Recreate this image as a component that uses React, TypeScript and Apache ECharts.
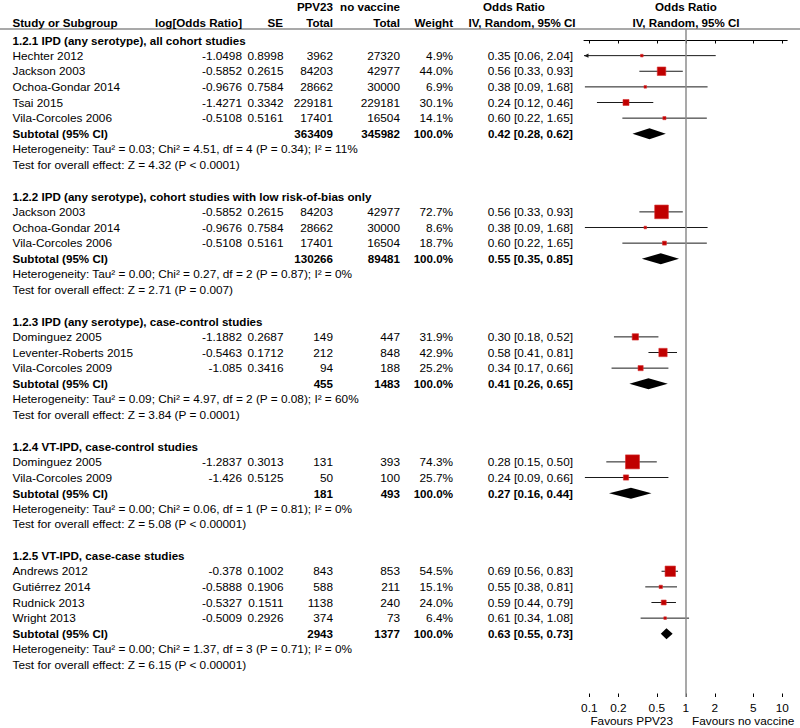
import React, { useEffect, useRef } from "react";
import * as echarts from "echarts";

// ---------------- DATA ----------------
const groupTitles = [
  "1.2.1 IPD (any serotype), all cohort studies",
  "1.2.2 IPD (any serotype), cohort studies with low risk-of-bias only",
  "1.2.3 IPD (any serotype), case-control studies",
  "1.2.4 VT-IPD, case-control studies",
  "1.2.5 VT-IPD, case-case studies",
];
const studyGroup = [0, 0, 0, 0, 0, 1, 1, 1, 2, 2, 2, 3, 3, 4, 4, 4, 4];
const studyNames = [
  "Hechter 2012", "Jackson 2003", "Ochoa-Gondar 2014", "Tsai 2015", "Vila-Corcoles 2006",
  "Jackson 2003", "Ochoa-Gondar 2014", "Vila-Corcoles 2006",
  "Dominguez 2005", "Leventer-Roberts 2015", "Vila-Corcoles 2009",
  "Dominguez 2005", "Vila-Corcoles 2009",
  "Andrews 2012", "Gutiérrez 2014", "Rudnick 2013", "Wright 2013",
];
const logOddsRatio = [
  -1.0498, -0.5852, -0.9676, -1.4271, -0.5108,
  -0.5852, -0.9676, -0.5108,
  -1.1882, -0.5463, -1.085,
  -1.2837, -1.426,
  -0.378, -0.5888, -0.5327, -0.5009,
];
const standardErrors = [
  0.8998, 0.2615, 0.7584, 0.3342, 0.5161,
  0.2615, 0.7584, 0.5161,
  0.2687, 0.1712, 0.3416,
  0.3013, 0.5125,
  0.1002, 0.1906, 0.1511, 0.2926,
];
const ppv23Totals = [3962, 84203, 28662, 229181, 17401, 84203, 28662, 17401, 149, 212, 94, 131, 50, 843, 588, 1138, 374];
const noVaccineTotals = [27320, 42977, 30000, 229181, 16504, 42977, 30000, 16504, 447, 848, 188, 393, 100, 853, 211, 240, 73];
const weights = [4.9, 44.0, 6.9, 30.1, 14.1, 72.7, 8.6, 18.7, 31.9, 42.9, 25.2, 74.3, 25.7, 54.5, 15.1, 24.0, 6.4];
const oddsRatios = [0.35, 0.56, 0.38, 0.24, 0.60, 0.56, 0.38, 0.60, 0.30, 0.58, 0.34, 0.28, 0.24, 0.69, 0.55, 0.59, 0.61];
const ciLower = [0.06, 0.33, 0.09, 0.12, 0.22, 0.33, 0.09, 0.22, 0.18, 0.41, 0.17, 0.15, 0.09, 0.56, 0.38, 0.44, 0.34];
const ciUpper = [2.04, 0.93, 1.68, 0.46, 1.65, 0.93, 1.68, 1.65, 0.52, 0.81, 0.66, 0.50, 0.66, 0.83, 0.81, 0.79, 1.08];

const subtotalPPV23 = [363409, 130266, 455, 181, 2943];
const subtotalNoVaccine = [345982, 89481, 1483, 493, 1377];
const subtotalWeight = [100.0, 100.0, 100.0, 100.0, 100.0];
const subtotalOR = [0.42, 0.55, 0.41, 0.27, 0.63];
const subtotalLower = [0.28, 0.35, 0.26, 0.16, 0.55];
const subtotalUpper = [0.62, 0.85, 0.65, 0.44, 0.73];
const heterogeneity = [
  "Heterogeneity: Tau² = 0.03; Chi² = 4.51, df = 4 (P = 0.34); I² = 11%",
  "Heterogeneity: Tau² = 0.00; Chi² = 0.27, df = 2 (P = 0.87); I² = 0%",
  "Heterogeneity: Tau² = 0.09; Chi² = 4.97, df = 2 (P = 0.08); I² = 60%",
  "Heterogeneity: Tau² = 0.00; Chi² = 0.06, df = 1 (P = 0.81); I² = 0%",
  "Heterogeneity: Tau² = 0.00; Chi² = 1.37, df = 3 (P = 0.71); I² = 0%",
];
const overallEffect = [
  "Test for overall effect: Z = 4.32 (P < 0.0001)",
  "Test for overall effect: Z = 2.71 (P = 0.007)",
  "Test for overall effect: Z = 3.84 (P = 0.0001)",
  "Test for overall effect: Z = 5.08 (P < 0.00001)",
  "Test for overall effect: Z = 6.15 (P < 0.00001)",
];
const tickValues = [0.1, 0.2, 0.5, 1, 2, 5, 10];
const tickLabels = ["0.1", "0.2", "0.5", "1", "2", "5", "10"];
const favoursLeft = "Favours PPV23";
const favoursRight = "Favours no vaccine";

// ---------------- LAYOUT ----------------
const FONT = "'Liberation Sans', Arial, Helvetica, sans-serif";
const FS = 11.8;
const FS_BOLD = 11.6;
const X_MIN = -1.055;
const X_MAX = 1.05;
const Y_MIN = -0.704;
const Y_MAX = 42.048;
const COLS: { x: number; align: string }[] = [
  { x: 12.5, align: "left" },
  { x: 242, align: "right" },
  { x: 283.5, align: "right" },
  { x: 333, align: "right" },
  { x: 400, align: "right" },
  { x: 453, align: "right" },
  { x: 573, align: "right" },
];

type Row = { r: number; kind: string; cells: string[] };

const fmtCI = (o: number, l: number, h: number) => `${o.toFixed(2)} [${l.toFixed(2)}, ${h.toFixed(2)}]`;

function buildRows() {
  const rows: Row[] = [];
  const studyData: number[][] = [];
  const subtotalData: number[][] = [];
  let r = 0;
  groupTitles.forEach((title, g) => {
    rows.push({ r, kind: "title", cells: [title] });
    r++;
    studyNames.forEach((name, i) => {
      if (studyGroup[i] !== g) return;
      rows.push({
        r,
        kind: "study",
        cells: [
          name,
          String(logOddsRatio[i]),
          String(standardErrors[i]),
          String(ppv23Totals[i]),
          String(noVaccineTotals[i]),
          weights[i].toFixed(1) + "%",
          fmtCI(oddsRatios[i], ciLower[i], ciUpper[i]),
        ],
      });
      studyData.push([
        Math.log10(oddsRatios[i]),
        Math.log10(ciLower[i]),
        Math.log10(ciUpper[i]),
        r,
        weights[i],
      ]);
      r++;
    });
    rows.push({
      r,
      kind: "subtotal",
      cells: [
        "Subtotal (95% CI)",
        "",
        "",
        String(subtotalPPV23[g]),
        String(subtotalNoVaccine[g]),
        subtotalWeight[g].toFixed(1) + "%",
        fmtCI(subtotalOR[g], subtotalLower[g], subtotalUpper[g]),
      ],
    });
    subtotalData.push([
      Math.log10(subtotalOR[g]),
      Math.log10(subtotalLower[g]),
      Math.log10(subtotalUpper[g]),
      r,
    ]);
    r++;
    rows.push({ r, kind: "note", cells: [heterogeneity[g]] });
    r++;
    rows.push({ r, kind: "note", cells: [overallEffect[g]] });
    r++;
    r++;
  });
  return { rows, studyData, subtotalData };
}

const { rows, studyData, subtotalData } = buildRows();

function headerText(text: string, x: number, y: number, align: string, bold = true) {
  return {
    type: "text",
    x,
    y,
    silent: true,
    style: {
      text,
      align,
      verticalAlign: "middle",
      fontSize: bold ? FS_BOLD : FS,
      fontFamily: FONT,
      fontWeight: bold ? "bold" : "normal",
      fill: "#000",
    },
  };
}

export default function App() {
  const ref = useRef<HTMLDivElement>(null);
  useEffect(() => {
    if (!ref.current) return;
    const chart = echarts.init(ref.current, undefined, { renderer: "svg" });
    const tickPos = tickValues.map((v) => Math.log10(v));
    const labelFor = (v: number) => {
      let best = 0;
      tickPos.forEach((p, i) => {
        if (Math.abs(p - v) < Math.abs(tickPos[best] - v)) best = i;
      });
      return tickLabels[best];
    };

    const option: any = {
      animation: false,
      backgroundColor: "#fff",
      grid: { left: 584, width: 203.2, top: 29, height: 668, containLabel: false },
      xAxis: [
        {
          type: "value",
          min: X_MIN,
          max: X_MAX,
          position: "bottom",
          axisLine: { show: true, lineStyle: { color: "#000", width: 1 } },
          axisTick: {
            show: true,
            length: 3.5,
            customValues: tickPos,
            lineStyle: { color: "#000", width: 1 },
          },
          axisLabel: {
            show: true,
            customValues: tickPos,
            formatter: (v: number) => labelFor(v),
            color: "#000",
            fontSize: FS,
            fontFamily: FONT,
            margin: 5,
          },
          splitLine: { show: false },
        },
        {
          type: "value",
          min: X_MIN,
          max: X_MAX,
          position: "bottom",
          axisLine: { show: false },
          axisTick: {
            show: true,
            inside: true,
            length: 3.5,
            customValues: tickPos,
            lineStyle: { color: "#000", width: 1 },
          },
          axisLabel: { show: false },
          splitLine: { show: false },
        },
      ],
      yAxis: {
        type: "value",
        inverse: true,
        min: Y_MIN,
        max: Y_MAX,
        show: false,
        splitLine: { show: false },
      },
      graphic: [
        {
          type: "line",
          silent: true,
          shape: { x1: 0, y1: 29, x2: 800, y2: 29 },
          style: { stroke: "#8c8c8c", lineWidth: 1.5 },
        },
        headerText("PPV23", 333, 6.5, "right"),
        headerText("no vaccine", 400, 6.5, "right"),
        headerText("Odds Ratio", 514, 6.5, "center"),
        headerText("Odds Ratio", 686, 6.5, "center"),
        headerText("Study or Subgroup", 12.5, 22.5, "left"),
        headerText("log[Odds Ratio]", 242, 22.5, "right"),
        headerText("SE", 283, 22.5, "right"),
        headerText("Total", 333, 22.5, "right"),
        headerText("Total", 400, 22.5, "right"),
        headerText("Weight", 453, 22.5, "right"),
        headerText("IV, Random, 95% CI", 522, 22.5, "center"),
        headerText("IV, Random, 95% CI", 686, 22.5, "center"),
        headerText(favoursLeft, 673, 721, "right", false),
        headerText(favoursRight, 692, 721, "left", false),
      ],
      series: [
        {
          type: "custom",
          name: "table",
          clip: false,
          silent: true,
          data: rows.map((row) => [0, row.r]),
          renderItem: (params: any, api: any) => {
            const row = rows[params.dataIndex];
            const y = api.coord([0, api.value(1)])[1];
            const bold = row.kind === "title" || row.kind === "subtotal";
            const children: any[] = [];
            row.cells.forEach((t, c) => {
              if (!t) return;
              const col = COLS[c];
              children.push({
                type: "text",
                style: {
                  text: t,
                  x: col.x,
                  y,
                  align: col.align,
                  verticalAlign: "middle",
                  fontSize: bold ? FS_BOLD : FS,
                  fontFamily: FONT,
                  fontWeight: bold ? "bold" : "normal",
                  fill: "#000",
                },
              });
            });
            return { type: "group", children };
          },
        },
        {
          type: "custom",
          name: "studies",
          clip: false,
          silent: true,
          data: studyData,
          renderItem: (params: any, api: any) => {
            const est = api.value(0);
            const lo = api.value(1);
            const hi = api.value(2);
            const row = api.value(3);
            const w = api.value(4);
            const pc = api.coord([est, row]);
            const plo = api.coord([Math.max(lo, X_MIN), row]);
            const phi = api.coord([Math.min(hi, X_MAX), row]);
            const size = Math.max(2.6, 0.18 * w + 0.6);
            const children: any[] = [
              {
                type: "line",
                shape: { x1: plo[0], y1: plo[1], x2: phi[0], y2: phi[1] },
                style: { stroke: "#1a1a1a", lineWidth: 1 },
              },
            ];
            if (lo < X_MIN) {
              children.push({
                type: "polygon",
                shape: {
                  points: [
                    [plo[0], plo[1]],
                    [plo[0] + 4.5, plo[1] - 2.2],
                    [plo[0] + 4.5, plo[1] + 2.2],
                  ],
                },
                style: { fill: "#1a1a1a" },
              });
            }
            if (hi > X_MAX) {
              children.push({
                type: "polygon",
                shape: {
                  points: [
                    [phi[0], phi[1]],
                    [phi[0] - 4.5, phi[1] - 2.2],
                    [phi[0] - 4.5, phi[1] + 2.2],
                  ],
                },
                style: { fill: "#1a1a1a" },
              });
            }
            children.push({
              type: "rect",
              shape: { x: pc[0] - size / 2, y: pc[1] - size / 2, width: size, height: size },
              style: { fill: "#c00000", stroke: "#d63030", lineWidth: 0.6 },
            });
            return { type: "group", children };
          },
          markLine: {
            silent: true,
            symbol: ["none", "none"],
            label: { show: false },
            lineStyle: { color: "#8c8c8c", width: 1.5, type: "solid" },
            data: [{ xAxis: 0 }],
          },
        },
        {
          type: "custom",
          name: "subtotals",
          clip: false,
          silent: true,
          data: subtotalData,
          renderItem: (params: any, api: any) => {
            const row = api.value(3);
            const pc = api.coord([api.value(0), row]);
            const plo = api.coord([api.value(1), row]);
            const phi = api.coord([api.value(2), row]);
            const h = 5.5;
            return {
              type: "polygon",
              shape: {
                points: [
                  [plo[0], pc[1]],
                  [pc[0], pc[1] - h],
                  [phi[0], pc[1]],
                  [pc[0], pc[1] + h],
                ],
              },
              style: { fill: "#000" },
            };
          },
        },
      ],
    };
    chart.setOption(option);
    return () => chart.dispose();
  }, []);

  return (
    <div
      ref={ref}
      style={{ position: "fixed", left: 0, top: 0, width: 800, height: 728, background: "#fff" }}
    />
  );
}
